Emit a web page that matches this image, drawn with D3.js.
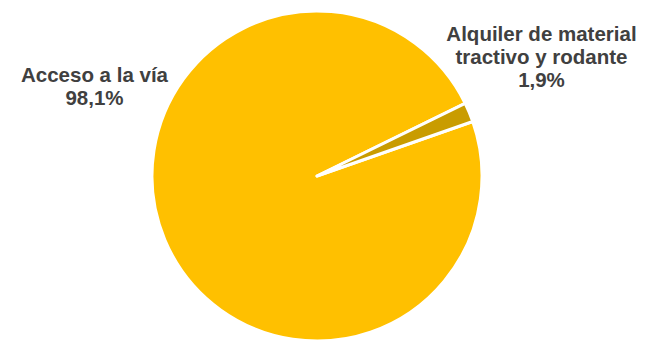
<!DOCTYPE html>
<html>
<head>
<meta charset="utf-8">
<script src="https://cdn.jsdelivr.net/npm/d3@7"></script>
<style>
  html, body { margin: 0; padding: 0; background: #fff; }
  svg { display: block; }
</style>
</head>
<body>
<div id="chart"></div>
<script>
// data
var categories = ["Acceso a la vía", "Alquiler de material tractivo y rodante"];
var values = [98.1, 1.9];
var valueLabels = ["98,1%", "1,9%"];
var colors = ["#FFC000", "#C99C00"];

var width = 647, height = 352;
var cx = 317, cy = 176, radius = 165;

var svg = d3.select("#chart").append("svg")
    .attr("width", width)
    .attr("height", height);

var rows = categories.map(function(c, i) {
    return { name: c, value: values[i], label: valueLabels[i], color: colors[i] };
});

// first slice starts a bit past 2 o'clock, like the original
var startRad = 70.7 * Math.PI / 180;
var pie = d3.pie().sort(null).value(function(d) { return d.value; })
    .startAngle(startRad).endAngle(startRad + 2 * Math.PI);

var arc = d3.arc().innerRadius(0).outerRadius(radius);

var g = svg.append("g").attr("transform", "translate(" + cx + "," + cy + ")");

g.selectAll("path")
    .data(pie(rows))
    .enter().append("path")
    .attr("d", arc)
    .attr("fill", function(d) { return d.data.color; })
    .attr("stroke", "#fff")
    .attr("stroke-width", 3)
    .attr("stroke-linejoin", "round");

// data labels (hand-placed like in the source chart)
var labelPos = [
    { x: 94.5, y: 82, lines: ["Acceso a la vía"] },
    { x: 541.5, y: 41, lines: ["Alquiler de material", "tractivo y rodante"] }
];

var lineH = 23;
labelPos.forEach(function(p, i) {
    var t = svg.append("text")
        .attr("x", p.x)
        .attr("y", p.y)
        .attr("text-anchor", "middle")
        .attr("font-family", "Liberation Sans, Arial, sans-serif")
        .attr("font-weight", "bold")
        .attr("font-size", "20.5px")
        .attr("fill", "#404040");
    var lines = p.lines.concat([rows[i].label]);
    lines.forEach(function(l, j) {
        t.append("tspan")
            .attr("x", p.x)
            .attr("dy", j === 0 ? 0 : lineH)
            .text(l);
    });
});
</script>
</body>
</html>
